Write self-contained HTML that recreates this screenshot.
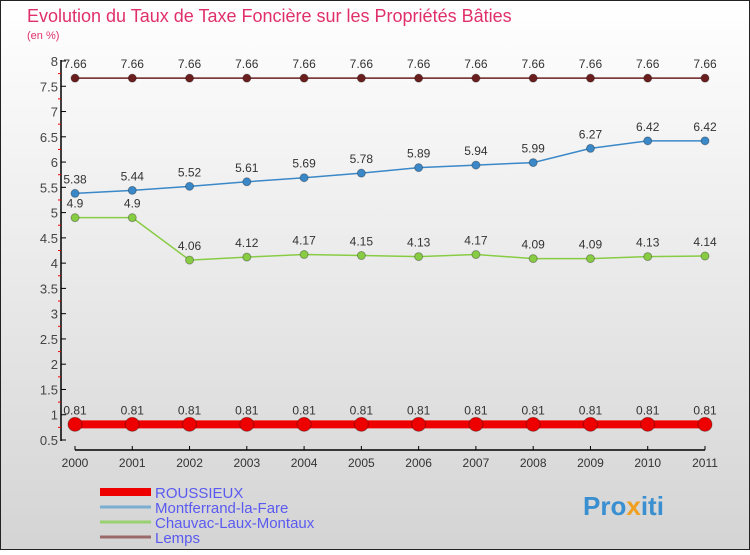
<!DOCTYPE html>
<html><head><meta charset="utf-8"><style>
body{margin:0}
svg text{font-family:"Liberation Sans",sans-serif}
</style></head><body>
<svg width="750" height="550" xmlns="http://www.w3.org/2000/svg">
<defs><linearGradient id="bg" x1="0" y1="0" x2="0" y2="1"><stop offset="0" stop-color="#ffffff"/><stop offset="1" stop-color="#d4d4d4"/></linearGradient></defs>
<rect x="0.5" y="0.5" width="749" height="549" fill="url(#bg)" stroke="#222"/>
<text x="27" y="22" font-size="18" fill="#e0306a">Evolution du Taux de Taxe Foncière sur les Propriétés Bâties</text>
<text x="27" y="39" font-size="11" fill="#e0306a">(en %)</text>
<g id="axes"></g>
<g id="series"></g>
<g id="legend"></g>
<text x="583" y="515" font-size="26" font-weight="bold" fill="#3a8fd0">Pro<tspan fill="#f0a020">x</tspan>iti</text>
</svg>
<script>
const years=[2000,2001,2002,2003,2004,2005,2006,2007,2008,2009,2010,2011];
const roussieux=[0.81,0.81,0.81,0.81,0.81,0.81,0.81,0.81,0.81,0.81,0.81,0.81];
const montferrand=[5.38,5.44,5.52,5.61,5.69,5.78,5.89,5.94,5.99,6.27,6.42,6.42];
const chauvac=[4.9,4.9,4.06,4.12,4.17,4.15,4.13,4.17,4.09,4.09,4.13,4.14];
const lemps=[7.66,7.66,7.66,7.66,7.66,7.66,7.66,7.66,7.66,7.66,7.66,7.66];
const yTicks=[0.5,1,1.5,2,2.5,3,3.5,4,4.5,5,5.5,6,6.5,7,7.5,8];
const NS="http://www.w3.org/2000/svg";
const x=i=>75+i*(705-75)/(years.length-1);
const y=v=>440-(v-0.5)*(379/7.5);
function mk(tag,attrs,parent,txt){const e=document.createElementNS(NS,tag);for(const k in attrs)e.setAttribute(k,attrs[k]);if(txt!==undefined)e.textContent=txt;parent.appendChild(e);return e;}
const ax=document.getElementById('axes');
let e=mk('line',{x1:61,y1:60,x2:61,y2:441,stroke:'#000','stroke-width':1.5},ax);


e=mk('line',{x1:75,y1:450,x2:705,y2:450,stroke:'#000','stroke-width':1.5},ax);


yTicks.forEach((t,i)=>{
 mk('line',{x1:61,y1:y(t),x2:66,y2:y(t),stroke:'#000'},ax);
 if(i<yTicks.length-1) mk('line',{x1:58,y1:y(t+0.25),x2:61,y2:y(t+0.25),stroke:'#e00'},ax);
 const l=mk('text',{x:58,y:y(t)+5,'font-size':13,fill:'#444','text-anchor':'end'},ax,String(t));
 
 
});
years.forEach((yr,i)=>{
 mk('line',{x1:x(i),y1:446,x2:x(i),y2:450,stroke:'#000'},ax);
 const l=mk('text',{x:x(i),y:467,'font-size':12,fill:'#333','text-anchor':'middle'},ax,String(yr));
 
 
});
const sg=document.getElementById('series');
function series(vals,color,w,r,name){
 const g=mk('g',{},sg);
 
 
 mk('polyline',{points:vals.map((v,i)=>x(i)+','+y(v)).join(' '),fill:'none',stroke:color,'stroke-width':w},g);
 vals.forEach((v,i)=>{
  const c=mk('circle',{cx:x(i),cy:y(v),r:r,fill:color,stroke:'rgba(0,0,0,0.3)'},g);
  
  
  const t=mk('text',{x:x(i),y:y(v)-10,'font-size':12,fill:'#333','text-anchor':'middle'},g,String(v));
  
  
 });
}
series(lemps,'#6b1e1e',1.5,4,'lemps-series');
series(montferrand,'#3a88c8',1.5,4,'montferrand-series');
series(chauvac,'#88cc44',1.5,4,'chauvac-series');
series(roussieux,'#ee0000',8,7,'roussieux-series');
const lg=document.getElementById('legend');
const legs=[['ROUSSIEUX','#ee0000',8],['Montferrand-la-Fare','#7aaed0',3],['Chauvac-Laux-Montaux','#99d070',3],['Lemps','#9a6a6a',3]];
legs.forEach((L,i)=>{
 const yy=492+i*15;
 const g=mk('g',{},lg);
 
 
 mk('line',{x1:100,y1:yy,x2:151,y2:yy,stroke:L[1],'stroke-width':L[2]},g);
 mk('text',{x:155,y:yy+6,'font-size':15,fill:'#5a5af0'},g,L[0]);
});
</script>
</body></html>
